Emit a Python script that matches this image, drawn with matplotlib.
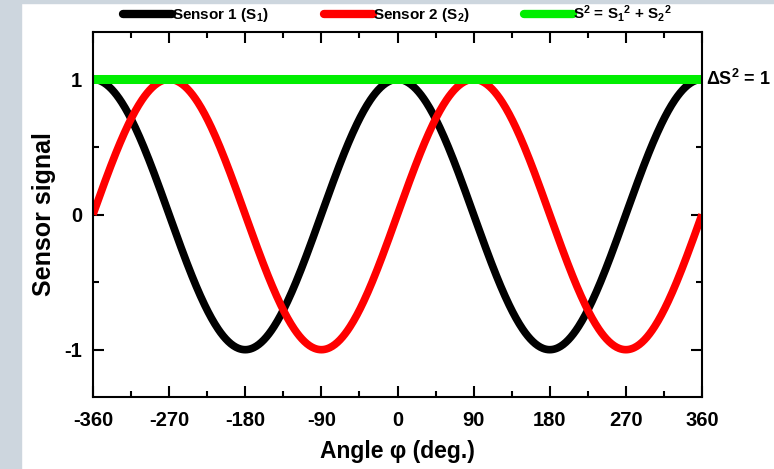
import matplotlib.pyplot as plt
import numpy as np
from matplotlib.patches import Rectangle

plt.rcParams['font.family'] = 'Liberation Sans'
plt.rcParams['font.weight'] = 'bold'
plt.rcParams['axes.unicode_minus'] = False
plt.rcParams['mathtext.fontset'] = 'custom'
plt.rcParams['mathtext.rm'] = 'Liberation Sans:bold'
plt.rcParams['mathtext.it'] = 'Liberation Sans:bold'
plt.rcParams['mathtext.bf'] = 'Liberation Sans:bold'

# angle in degrees, sensor curves
angle = np.linspace(-360, 360, 721)
sensor1 = np.cos(np.radians(angle))
sensor2 = np.sin(np.radians(angle))
total = sensor1**2 + sensor2**2

xticks = [-360, -270, -180, -90, 0, 90, 180, 270, 360]
yticks = [-1, 0, 1]

fig = plt.figure(figsize=(7.74, 4.69), dpi=100)
# pale background strip on the left / top edge
fig.patches.append(Rectangle((0, 0), 21/774, 1, transform=fig.transFigure,
                             color='#cdd6de', zorder=0))
fig.patches.append(Rectangle((0, 1 - 3/469), 1, 3/469, transform=fig.transFigure,
                             color='#cdd6de', zorder=0))

ax = fig.add_axes([93/774, 1 - 397/469, 609/774, 365/469])
ax.plot(angle, sensor1, color='black', lw=5.5, label='Sensor 1 (S$_1$)', solid_capstyle='butt')
ax.plot(angle, sensor2, color='#ff0000', lw=5.5, label='Sensor 2 (S$_2$)', solid_capstyle='butt')
ax.plot(angle, total, color='#00ee00', lw=6.5, label='S$^2$ = S$_1$$^2$ + S$_2$$^2$', solid_capstyle='butt')

ax.set_xlim(-360, 360)
ax.set_ylim(-1.35, 1.35)
ax.set_xticks(xticks)
ax.set_xticks(np.arange(-315, 360, 90), minor=True)
ax.set_yticks(yticks)
ax.set_yticks([-0.5, 0.5], minor=True)
ax.tick_params(which='both', direction='in', top=True, right=True, width=1.5, labelsize=14.5)
ax.tick_params(which='major', length=8)
ax.tick_params(which='minor', length=4)
ax.tick_params(axis='x', pad=10)
ax.tick_params(axis='y', pad=8)
for s in ax.spines.values():
    s.set_linewidth(1.5)

ax.set_xlabel('Angle φ (deg.)', fontsize=16.5, fontweight='bold', labelpad=7)
ax.set_ylabel('Sensor signal', fontsize=18, fontweight='bold', labelpad=6)

ax.text(1.006, 1, 'ΔS$^2$ = 1', transform=ax.get_yaxis_transform(),
        ha='left', va='center', fontsize=13)

leg = ax.legend(loc='lower center', bbox_to_anchor=(0.5, 1.0), ncol=3, frameon=False,
                fontsize=11, handlelength=3.2, handletextpad=0.0, columnspacing=3.6,
                borderaxespad=0.1)
for h in leg.legend_handles:
    h.set_solid_capstyle('round')
    h.set_linewidth(6)

fig.savefig('out.png', dpi=100)
